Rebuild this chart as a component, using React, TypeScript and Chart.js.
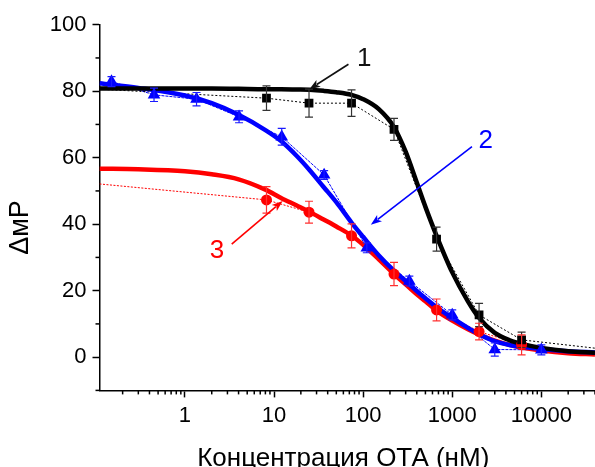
import React, { useEffect, useRef } from 'react';
import { Chart, registerables } from 'chart.js';

Chart.register(...registerables);

const FONT = "'Liberation Sans', Arial, sans-serif";

// Measured data (concentration, nM) and ΔмP
const blackX = [8.23, 24.7, 74.1, 222, 667, 2000, 6000];
const blackY = [77.9, 76.4, 76.4, 68.5, 35.5, 12.7, 5.2];
const blackErr = [3.7, 4.2, 4.0, 3.3, 3.6, 3.5, 2.3];

const blueX = [0.15, 0.45, 1.35, 4.05, 12.2, 36.5, 110, 330, 1000, 3000, 10000];
const blueY = [82.9, 78.9, 77.6, 72.3, 66.3, 54.8, 32.9, 22.9, 12.7, 2.3, 2.2];
const blueErr = [1.5, 2.0, 2.0, 1.8, 2.5, 1.3, 1.5, 1.5, 1.5, 2.0, 1.5];

const redX = [8.23, 24.7, 74.1, 222, 667, 2000, 6000];
const redY = [47.3, 43.6, 36.5, 25.0, 14.2, 7.7, 3.7];
const redErr = [4.0, 3.3, 3.6, 3.5, 3.3, 2.5, 3.0];

// Thin dotted connector lines (include off-marker end values)
const blackLineX = [0.11, ...blackX, 40000];
const blackLineY = [80.6, ...blackY, 2.7];
const redLineX = [0.11, ...redX];
const redLineY = [52.1, ...redY];

// Fitted curves
const fitX = [0.11, 0.3, 1, 2, 4, 8, 12, 18, 25, 36, 50, 74, 100, 150, 222, 300, 400, 500, 667, 1000, 1500, 2000, 3000, 4500, 6000, 10000, 20000, 40000];
const blackFitY = [80.8, 80.8, 80.8, 80.8, 80.7, 80.6, 80.6, 80.5, 80.4, 80.1, 79.7, 78.9, 77.6, 74.6, 69.2, 61.8, 52.5, 45.2, 36.5, 25.5, 16.8, 11.8, 7.3, 5.0, 4.0, 2.8, 1.8, 1.3];
const blueFitY = [82.4, 81.0, 78.7, 76.4, 72.9, 68.3, 65.0, 60.5, 56.3, 51.2, 46.6, 40.5, 36.2, 30.6, 26.0, 22.9, 19.9, 17.7, 15.0, 11.8, 8.8, 6.9, 4.8, 3.6, 3.1, 2.5, 1.8, 1.4];
const redFitY = [56.7, 56.5, 55.9, 55.0, 53.5, 50.4, 47.9, 45.6, 43.7, 41.4, 39.3, 36.6, 33.8, 29.4, 25.0, 21.9, 18.9, 16.8, 14.0, 11.0, 8.4, 6.8, 5.0, 3.6, 2.9, 2.0, 1.2, 0.8];

const xMajorTicks = [1, 10, 100, 1000, 10000];
const yMajorTicks = [0, 20, 40, 60, 80, 100];

const xTitle = 'Концентрация ОТА (нМ)';
const yTitle = 'ΔмP';

const annotations = [
  { label: '1', color: '#111111', textX: 102.6, textY: 90.3, fromX: 68.4, fromY: 88.1, toX: 24.9, toY: 80.6 },
  { label: '2', color: '#0000ff', textX: 2378, textY: 65.6, fromX: 1665, fromY: 63.3, toX: 122, toY: 39.8 },
  { label: '3', color: '#ff0000', textX: 2.29, textY: 32.6, fromX: 3.35, fromY: 34, toX: 12.5, toY: 47 },
];

const errorSets = [
  { xs: blackX, ys: blackY, errs: blackErr, color: '#333333' },
  { xs: blueX, ys: blueY, errs: blueErr, color: '#1a1aff' },
  { xs: redX, ys: redY, errs: redErr, color: '#ff3030' },
];

const pts = (xs: number[], ys: number[]) => xs.map((x, i) => ({ x, y: ys[i] }));

const buildLogTicks = (min: number, max: number) => {
  const out: { value: number; major: boolean }[] = [];
  for (let e = -1; e <= 4; e++) {
    for (let m = 1; m <= 9; m++) {
      const v = Number((m * Math.pow(10, e)).toPrecision(3));
      if (v >= min && v <= max) out.push({ value: v, major: m === 1 });
    }
  }
  return out;
};

const extrasPlugin = {
  id: 'extras',
  afterDatasetsDraw(chart: any) {
    const ctx = chart.ctx;
    const xs = chart.scales.x;
    const ys = chart.scales.y;
    const area = chart.chartArea;
    ctx.save();
    ctx.beginPath();
    ctx.rect(area.left, area.top, area.right - area.left, area.bottom - area.top);
    ctx.clip();
    errorSets.forEach((s) => {
      ctx.strokeStyle = s.color;
      ctx.lineWidth = 1.2;
      s.xs.forEach((x, i) => {
        const px = xs.getPixelForValue(x);
        const top = ys.getPixelForValue(s.ys[i] + s.errs[i]);
        const bot = ys.getPixelForValue(s.ys[i] - s.errs[i]);
        ctx.beginPath();
        ctx.moveTo(px, top);
        ctx.lineTo(px, bot);
        ctx.moveTo(px - 4, top);
        ctx.lineTo(px + 4, top);
        ctx.moveTo(px - 4, bot);
        ctx.lineTo(px + 4, bot);
        ctx.stroke();
      });
    });
    ctx.restore();
  },
  afterDraw(chart: any) {
    const ctx = chart.ctx;
    const xs = chart.scales.x;
    const ys = chart.scales.y;
    const area = chart.chartArea;
    ctx.save();
    // minor ticks
    ctx.strokeStyle = '#000';
    ctx.lineWidth = 1.5;
    xs.ticks.forEach((t: any) => {
      if (xMajorTicks.includes(t.value)) return;
      const px = xs.getPixelForValue(t.value);
      ctx.beginPath();
      ctx.moveTo(px, area.bottom);
      ctx.lineTo(px, area.bottom + 4);
      ctx.stroke();
    });
    ys.ticks.forEach((t: any) => {
      if (yMajorTicks.includes(t.value)) return;
      const py = ys.getPixelForValue(t.value);
      ctx.beginPath();
      ctx.moveTo(area.left, py);
      ctx.lineTo(area.left - 4, py);
      ctx.stroke();
    });
    // annotations
    annotations.forEach((a) => {
      const fx = xs.getPixelForValue(a.fromX);
      const fy = ys.getPixelForValue(a.fromY);
      const tx = xs.getPixelForValue(a.toX);
      const ty = ys.getPixelForValue(a.toY);
      const ang = Math.atan2(ty - fy, tx - fx);
      const hl = 11;
      const hw = 4;
      ctx.strokeStyle = a.color;
      ctx.fillStyle = a.color;
      ctx.lineWidth = 1.6;
      ctx.beginPath();
      ctx.moveTo(fx, fy);
      ctx.lineTo(tx - Math.cos(ang) * hl * 0.8, ty - Math.sin(ang) * hl * 0.8);
      ctx.stroke();
      ctx.beginPath();
      ctx.moveTo(tx, ty);
      ctx.lineTo(tx - Math.cos(ang) * hl - Math.sin(ang) * hw, ty - Math.sin(ang) * hl + Math.cos(ang) * hw);
      ctx.lineTo(tx - Math.cos(ang) * hl * 0.75, ty - Math.sin(ang) * hl * 0.75);
      ctx.lineTo(tx - Math.cos(ang) * hl + Math.sin(ang) * hw, ty - Math.sin(ang) * hl - Math.cos(ang) * hw);
      ctx.closePath();
      ctx.fill();
      ctx.font = `26px ${FONT}`;
      ctx.textAlign = 'center';
      ctx.textBaseline = 'alphabetic';
      ctx.fillText(a.label, xs.getPixelForValue(a.textX), ys.getPixelForValue(a.textY) + 9.3);
    });
    // axis titles
    ctx.fillStyle = '#000';
    ctx.font = `26px ${FONT}`;
    ctx.textAlign = 'center';
    ctx.textBaseline = 'alphabetic';
    ctx.fillText(xTitle, (area.left + area.right) / 2 - 4, area.bottom + 75.5);
    ctx.save();
    ctx.font = `27px ${FONT}`;
    ctx.translate(area.left - 72, (area.top + area.bottom) / 2 + 20);
    ctx.rotate(-Math.PI / 2);
    ctx.fillText(yTitle, 0, 0);
    ctx.restore();
    ctx.restore();
  },
};

export default function App() {
  const ref = useRef<HTMLCanvasElement | null>(null);
  useEffect(() => {
    document.body.style.margin = '0';
    if (!ref.current) return;
    const fitStyle = (color: string) => ({
      showLine: true,
      borderColor: color,
      borderWidth: 4.5,
      pointRadius: 0,
      cubicInterpolationMode: 'monotone' as const,
      fill: false,
    });
    const dotStyle = (color: string, dash: number[]) => ({
      showLine: true,
      borderColor: color,
      borderWidth: 1,
      borderDash: dash,
      pointRadius: 0,
      fill: false,
    });
    const chart = new Chart(ref.current, {
      type: 'scatter',
      data: {
        datasets: [
          { ...dotStyle('#000000', [2, 2]), data: pts(blackLineX, blackLineY), order: 6 },
          { ...dotStyle('#0000ff', [3, 1]), data: pts(blueX, blueY), order: 6 },
          { ...dotStyle('#ff0000', [2, 1.5]), data: pts(redLineX, redLineY), order: 6 },
          { ...fitStyle('#ff0000'), data: pts(fitX, redFitY), order: 5 },
          { ...fitStyle('#0000ff'), data: pts(fitX, blueFitY), order: 4 },
          { ...fitStyle('#000000'), data: pts(fitX, blackFitY), order: 3 },
          { showLine: false, data: pts(blackX, blackY), pointStyle: 'rect', pointRadius: 6.2, backgroundColor: '#000', borderColor: '#000', borderWidth: 0, order: 2 },
          { showLine: false, data: pts(blueX, blueY), pointStyle: 'triangle', pointRadius: 7.3, backgroundColor: '#0000ff', borderColor: '#0000ff', borderWidth: 0, order: 2 },
          { showLine: false, data: pts(redX, redY), pointStyle: 'circle', pointRadius: 5.5, backgroundColor: '#ff0000', borderColor: '#ff0000', borderWidth: 0, order: 2 },
        ],
      },
      options: {
        responsive: false,
        maintainAspectRatio: false,
        animation: false,
        layout: { autoPadding: false, padding: { top: 24.7, right: 0, left: 0, bottom: 0 } },
        plugins: { legend: { display: false }, tooltip: { enabled: false } },
        scales: {
          x: {
            type: 'logarithmic',
            min: 0.11,
            max: 40000,
            afterBuildTicks: (scale: any) => {
              scale.ticks = buildLogTicks(scale.min, scale.max);
            },
            afterFit: (scale: any) => {
              scale.height = 76.6;
              scale.paddingLeft = 0;
              scale.paddingRight = 0;
            },
            border: { display: true, color: '#000', width: 1.5 },
            grid: {
              display: true,
              drawOnChartArea: false,
              drawTicks: true,
              tickLength: 7,
              tickWidth: 1.5,
              tickColor: (c: any) => (c.tick && xMajorTicks.includes(c.tick.value) ? '#000' : 'rgba(0,0,0,0)'),
            },
            ticks: {
              autoSkip: false,
              maxRotation: 0,
              padding: 5,
              color: '#000',
              font: { family: FONT, size: 22 },
              callback: (v: any) => (xMajorTicks.includes(Number(v)) ? String(v) : ''),
            },
          },
          y: {
            type: 'linear',
            min: -10,
            max: 100,
            afterFit: (scale: any) => {
              scale.width = 99.5;
            },
            border: { display: true, color: '#000', width: 1.5 },
            grid: {
              display: true,
              drawOnChartArea: false,
              drawTicks: true,
              tickLength: 7,
              tickWidth: 1.5,
              tickColor: (c: any) => (c.tick && yMajorTicks.includes(c.tick.value) ? '#000' : 'rgba(0,0,0,0)'),
            },
            ticks: {
              stepSize: 10,
              autoSkip: false,
              padding: 6,
              color: '#000',
              font: { family: FONT, size: 22 },
              callback: (v: any) => (yMajorTicks.includes(Number(v)) ? String(v) : ''),
            },
          },
        },
      },
      plugins: [extrasPlugin],
    });
    return () => chart.destroy();
  }, []);
  return (
    <div style={{ width: 595, height: 467, background: '#fff' }}>
      <canvas ref={ref} width={595} height={467} style={{ display: 'block' }} />
    </div>
  );
}
